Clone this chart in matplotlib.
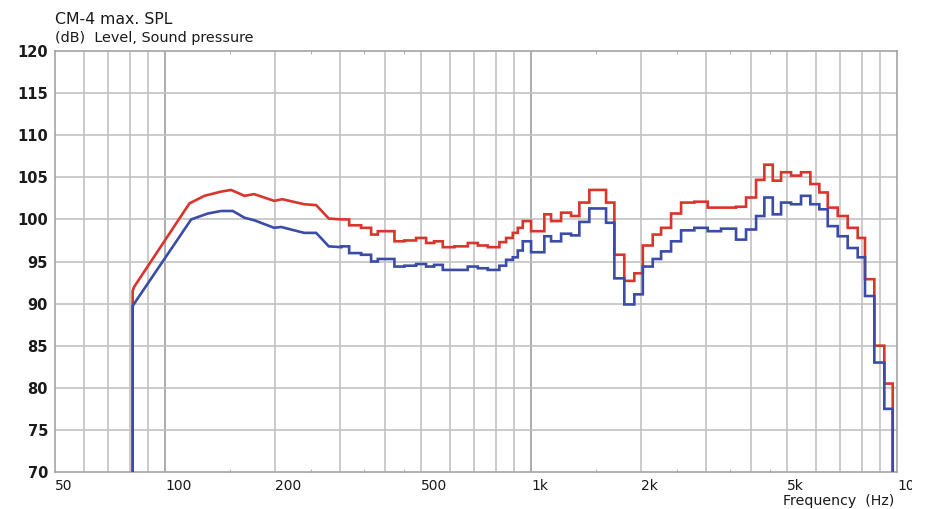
import numpy as np
import matplotlib
matplotlib.use("Agg")
import matplotlib.pyplot as plt
from matplotlib.ticker import FixedLocator, NullFormatter
from matplotlib.transforms import Bbox

# Parte baja (trazo continuo): frecuencia (Hz) y nivel (dB)
red_smooth_f = [81.5, 81.5, 82.3, 116.5, 128.0, 142.2, 151.4, 164.7, 175.1, 198.6, 209.0, 239.8, 258.6, 280.0, 302.7]
red_smooth_db = [70, 91.5, 92.0, 101.9, 102.8, 103.3, 103.5, 102.8, 103.0, 102.2, 102.4, 101.8, 101.7, 100.1, 100.0]
blue_smooth_f = [81.5, 81.5, 82.3, 117.8, 130.8, 142.2, 153.1, 164.7, 175.1, 198.6, 207.4, 239.8, 258.6, 280.0, 302.7]
blue_smooth_db = [70, 89.7, 90.0, 100.0, 100.7, 101.0, 101.0, 100.2, 99.9, 99.0, 99.1, 98.4, 98.4, 96.8, 96.7]

# Parte escalonada: inicio de cada banda (Hz)
step_f = [302.7, 318.3, 343.1, 365.5, 381.2, 401.6, 423.2, 450.7, 485.1, 516.6, 543.3,
          573.8, 617.0, 671.4, 715.2, 761.6, 819.3, 854.6, 891.3, 919.8, 949.1, 1000,
          1087, 1134, 1208, 1286, 1355, 1443, 1603, 1689, 1798, 1915, 2020, 2150,
          2266, 2413, 2570, 2794, 3039, 3305, 3632, 3868, 4120, 4340, 4576, 4822,
          5134, 5467, 5797, 6134, 6467, 6887, 7333, 7809, 8176, 8670, 9234, 9734]
red_step_db = [100.0, 99.3, 99.0, 98.2, 98.6, 98.6, 97.4, 97.5, 97.8, 97.2, 97.4,
               96.7, 96.8, 97.2, 96.9, 96.7, 97.3, 97.8, 98.4, 99.0, 99.8, 98.6,
               100.6, 99.8, 100.8, 100.4, 102.0, 103.5, 102.0, 95.8, 92.7, 93.6, 96.9, 98.2,
               99.0, 100.7, 102.0, 102.1, 101.4, 101.4, 101.5, 102.6, 104.7, 106.5, 104.6, 105.6,
               105.2, 105.6, 104.2, 103.2, 101.4, 100.4, 99.0, 97.8, 92.9, 85.0, 80.5, 70]
blue_step_db = [96.8, 96.0, 95.8, 95.0, 95.3, 95.3, 94.4, 94.5, 94.7, 94.4, 94.6,
                94.0, 94.0, 94.4, 94.2, 94.0, 94.5, 95.2, 95.5, 96.3, 97.4, 96.1,
                98.0, 97.4, 98.3, 98.1, 99.7, 101.3, 99.6, 93.0, 89.9, 91.1, 94.4, 95.3,
                96.2, 97.4, 98.7, 99.0, 98.6, 98.9, 97.6, 98.8, 100.4, 102.6, 100.6, 102.0,
                101.8, 102.8, 101.8, 101.2, 99.2, 98.0, 96.6, 95.5, 90.9, 83.0, 77.5, 70]

x_major = [100, 1000]
x_labels = {50: "50", 100: "100", 200: "200", 500: "500", 1000: "1k", 2000: "2k", 5000: "5k", 10000: "10k"}
x_grid = [60, 70, 80, 90, 200, 300, 400, 500, 600, 700, 800, 900,
          2000, 3000, 4000, 5000, 6000, 7000, 8000, 9000]
x_half = [150, 250, 350, 450, 1500, 2500, 3500, 4500]
y_ticks = list(range(70, 121, 5))

red = "#d9352c"
blue = "#3a4ca8"
grid_c = "#c2c2c2"
txt_c = "#1a1a1a"


def build(smooth_f, smooth_db, sf, sdb):
    # une el tramo continuo con el escalonado
    f = list(smooth_f)
    db = list(smooth_db)
    for i in range(len(sf)):
        f += [sf[i], sf[i]]
        db += [db[-1], sdb[i]]
    return f, db


rf, rdb = build(red_smooth_f, red_smooth_db, step_f, red_step_db)
bf, bdb = build(blue_smooth_f, blue_smooth_db, step_f, blue_step_db)

fig = plt.figure(figsize=(9.31, 5.09), dpi=100)
ax = fig.add_axes([55 / 931, 1 - 472 / 509, 842 / 931, 421 / 509])

ax.set_xscale("log")
ax.set_xlim(50, 10000)
ax.set_ylim(70, 120)

for x in x_grid:
    ax.axvline(x, color=grid_c, lw=1.2, zorder=1)
for x in x_major:
    ax.axvline(x, color="#acacac", lw=1.4, zorder=1)
for y in y_ticks[1:-1]:
    ax.axhline(y, color=grid_c, lw=1.2, zorder=1)

ax.plot(rf, rdb, color=red, lw=1.9, zorder=3, solid_joinstyle="miter")
ax.plot(bf, bdb, color=blue, lw=1.9, zorder=4, solid_joinstyle="miter")

for s in ax.spines.values():
    s.set_color("#a4a4a4")
    s.set_linewidth(1.2)

ax.xaxis.set_major_locator(FixedLocator(list(x_labels.keys())))
ax.set_xticklabels(list(x_labels.values()))
ax.xaxis.set_minor_locator(FixedLocator(x_half))
ax.xaxis.set_minor_formatter(NullFormatter())
ax.tick_params(axis="x", which="major", length=0, pad=5, labelsize=10, labelcolor=txt_c)
ax.tick_params(axis="x", which="minor", direction="in", length=2.5, color="#a4a4a4", top=True)
for lab in ax.get_xticklabels():
    lab.set_horizontalalignment("left")
# el rótulo "10k" queda recortado en el borde como en el original
last = ax.get_xticklabels()[-1]
last.set_clip_on(True)
last.set_clip_box(Bbox.from_extents(0, 0, 912, 509))

ax.set_yticks(y_ticks)
ax.tick_params(axis="y", length=0, pad=5, labelsize=10.5, labelcolor=txt_c)
for lab in ax.get_yticklabels():
    lab.set_fontweight("bold")

fig.text(55 / 931, 1 - 19 / 509, "CM-4 max. SPL", fontsize=11.3, color=txt_c, va="center", ha="left")
fig.text(55 / 931, 1 - 38 / 509, "(dB)  Level, Sound pressure", fontsize=10.4, color=txt_c, va="center", ha="left")
fig.text(894 / 931, 1 - 501 / 509, "Frequency  (Hz)", fontsize=10.2, color=txt_c, va="center", ha="right")

fig.savefig("out.png", dpi=100, facecolor="white")
